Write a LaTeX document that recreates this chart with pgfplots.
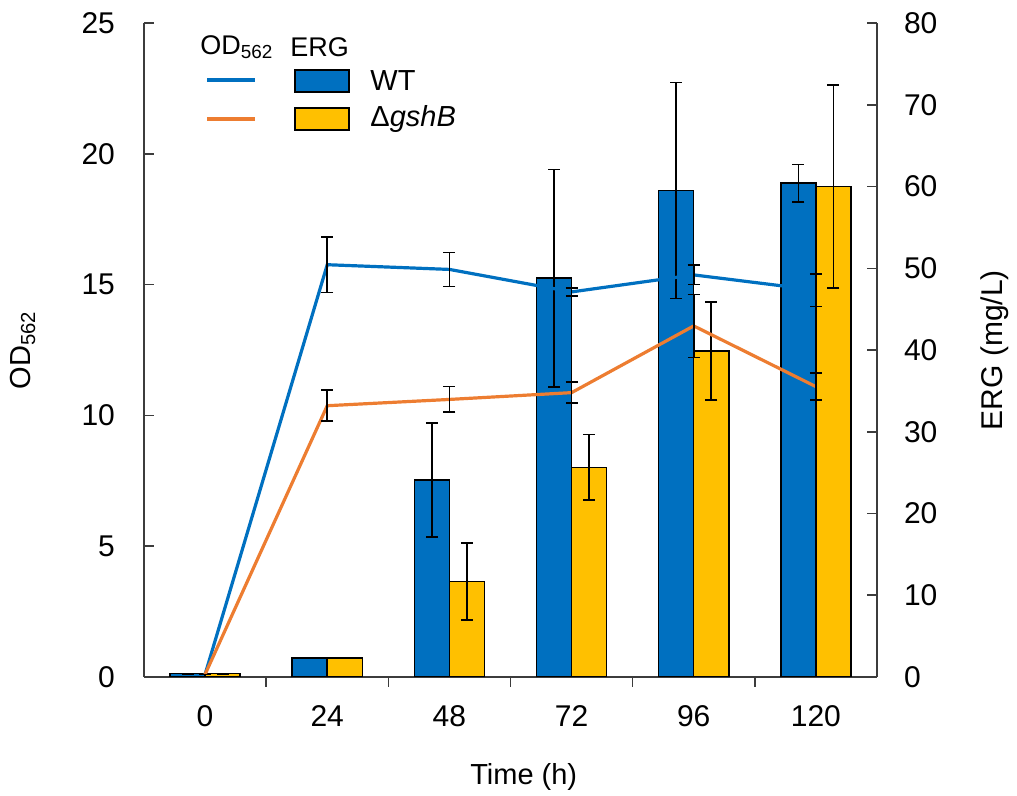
\documentclass[border=0pt]{standalone}
\usepackage{fontspec}
\setmainfont{Liberation Sans}
\usepackage{pgfplots}
\pgfplotsset{compat=1.18}
\definecolor{wtblue}{RGB}{0,112,192}
\definecolor{mutyel}{RGB}{255,192,0}
\definecolor{mutorg}{RGB}{237,125,49}
\definecolor{axgray}{RGB}{60,60,60}

\pgfplotsset{
  common/.style={
    at={(0,0)}, anchor=south west,
    scale only axis, width=366.5pt, height=327pt,
    xmin=-0.5, xmax=5.5, ymin=0,
    axis line style={line width=0.75pt, draw=axgray},
    tick style={line width=0.75pt, draw=axgray},
    major tick length=5pt,
    /pgf/number format/assume math mode=true,
    ticklabel style={font=\fontsize{15}{18}\selectfont},
  },
  errs/.style={error bars/.cd, y dir=both, y explicit,
    error bar style={line width=0.8pt, black},
    error mark options={rotate=90, mark size=3pt, line width=0.8pt, black}},
}

\begin{document}
\begin{tikzpicture}
\path[use as bounding box] (-72pt,-59.5pt) rectangle (436.5pt,338.5pt);

% ERG bars, right axis
\begin{axis}[common,
  ymax=80, ytick={0,10,...,80},
  axis x line*=bottom, axis y line*=right,
  xtick align=outside, ytick align=inside,
  xtick={0.5,1.5,2.5,3.5,4.5}, xticklabels={},
  extra x ticks={0,1,2,3,4,5},
  extra x tick labels={0,24,48,72,96,120},
  extra x tick style={major tick length=0pt},
  xticklabel shift=10.5pt, yticklabel shift=10pt,
  xlabel={Time (h)},
  ylabel={ERG (mg/L)},
  every axis x label/.style={at={(axis description cs:0.518,-0.153)}, anchor=center,
    font=\fontsize{14.5}{17}\selectfont},
  every axis y label/.style={at={(axis description cs:1.161,0.5)}, rotate=90, anchor=center,
    font=\fontsize{15}{18}\selectfont},
  ybar, bar width=0.287,
]
\addplot[fill=wtblue, draw=black, line width=0.75pt, bar shift=-0.1435, errs]
  coordinates {(0,0.4) +- (0,0) (1,2.3) +- (0,0) (2,24.1) +- (0,7.0)
               (3,48.8) +- (0,13.3) (4,59.5) +- (0,13.2) (5,60.4) +- (0,2.3)};
\addplot[fill=mutyel, draw=black, line width=0.75pt, bar shift=0.1435, errs]
  coordinates {(0,0.4) +- (0,0) (1,2.3) +- (0,0) (2,11.7) +- (0,4.7)
               (3,25.65) +- (0,4.0) (4,39.9) +- (0,6.0) (5,60.0) +- (0,12.4)};
\end{axis}

% OD562 lines, left axis
\begin{axis}[common,
  ymax=25, ytick={0,5,...,25},
  axis x line=none, axis y line*=left,
  tick align=inside,
  yticklabel shift=11pt,
  ylabel={OD\textsubscript{562}},
  every axis y label/.style={at={(axis description cs:-0.165,0.5)}, rotate=90, anchor=center,
    font=\fontsize{14.5}{17}\selectfont},
]
\addplot[wtblue, line width=1.6pt, no marks, errs]
  coordinates {(0,0.1) +- (0,0) (1,15.76) +- (0,1.07) (2,15.58) +- (0,0.65)
               (3,14.72) +- (0,0.16) (4,15.37) +- (0,0.37) (5,14.79) +- (0,0.62)};
\addplot[mutorg, line width=1.6pt, no marks, errs]
  coordinates {(0,0.1) +- (0,0) (1,10.37) +- (0,0.59) (2,10.61) +- (0,0.49)
               (3,10.87) +- (0,0.40) (4,13.42) +- (0,1.2) (5,11.1) +- (0,0.52)};
\end{axis}

% legend
\node[anchor=west, inner sep=0pt, font=\fontsize{13.5}{16}\selectfont] at (28pt,315pt) {OD\textsubscript{562}};
\node[anchor=west, inner sep=0pt, font=\fontsize{13.5}{16}\selectfont] at (73pt,315pt) {ERG};
\draw[wtblue, line width=1.6pt] (31.5pt,298.5pt) -- (55.5pt,298.5pt);
\draw[mutorg, line width=1.6pt] (31.5pt,279pt) -- (55.5pt,279pt);
\draw[black, line width=0.75pt, fill=wtblue] (75.5pt,292.5pt) rectangle (102.5pt,303.5pt);
\draw[black, line width=0.75pt, fill=mutyel] (75.5pt,273.5pt) rectangle (102.5pt,284.5pt);
\node[anchor=west, inner sep=0pt, font=\fontsize{14.5}{17}\selectfont] at (113pt,298pt) {WT};
\node[anchor=west, inner sep=0pt, font=\fontsize{14.5}{17}\selectfont] at (113pt,279pt) {Δ\textit{gshB}};
\end{tikzpicture}
\end{document}
